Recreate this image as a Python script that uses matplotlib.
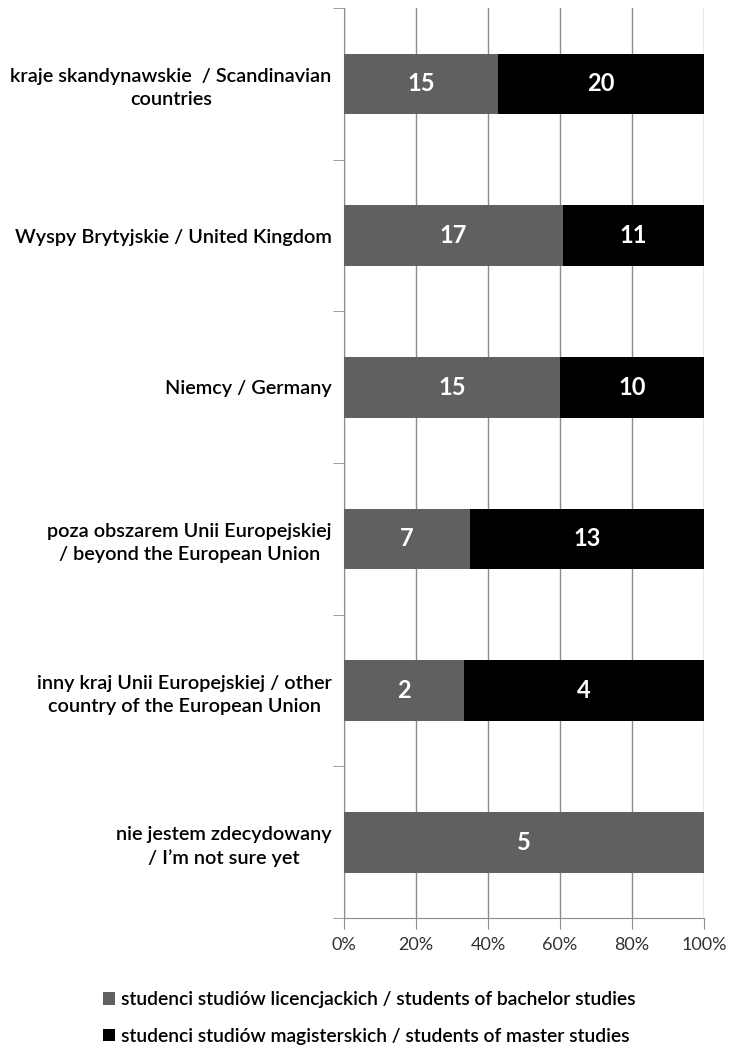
import numpy as np
import matplotlib.pyplot as plt
from matplotlib.ticker import FixedLocator

categories = [
    "kraje skandynawskie  / Scandinavian\ncountries",
    "Wyspy Brytyjskie / United Kingdom",
    "Niemcy / Germany",
    "poza obszarem Unii Europejskiej\n/ beyond the European Union",
    "inny kraj Unii Europejskiej / other\ncountry of the European Union",
    "nie jestem zdecydowany\n/ I\u2019m not sure yet",
]
bachelor = [15, 17, 15, 7, 2, 5]
master = [20, 11, 10, 13, 4, 0]
series_names = ["studenci studiów licencjackich / students of bachelor studies",
                "studenci studiów magisterskich / students of master studies"]
xticks = [0, 20, 40, 60, 80, 100]

plt.rcParams['font.family'] = ['Lato', 'DejaVu Sans']

b = np.array(bachelor, dtype=float)
m = np.array(master, dtype=float)
tot = b + m
bp = b / tot * 100
mp = m / tot * 100

fig = plt.figure(figsize=(7.44, 10.51), dpi=100)
ax = fig.add_axes([344 / 744, 1 - 918 / 1051, 360 / 744, 910 / 1051])

y = np.arange(len(categories))
gray = "#5f6062"
bars1 = ax.barh(y, bp, height=0.4, color=gray, zorder=3, label=series_names[0])
bars2 = ax.barh(y, mp, left=bp, height=0.4, color="black", zorder=3, label=series_names[1])

for i in range(len(y)):
    if b[i] > 0:
        ax.text(bp[i] / 2, y[i], str(bachelor[i]), color="white", ha="center",
                va="center", fontsize=17, fontweight="bold", zorder=4)
    if m[i] > 0:
        ax.text(bp[i] + mp[i] / 2, y[i], str(master[i]), color="white", ha="center",
                va="center", fontsize=17, fontweight="bold", zorder=4)

ax.set_xlim(0, 100)
ax.set_ylim(len(y) - 0.5, -0.5)
ax.set_xticks(xticks)
ax.set_xticklabels([f"{v}%" for v in xticks], fontsize=13, color="#333333")
ax.xaxis.grid(True, color="#8c8c8c", linewidth=1, zorder=0)
ax.set_yticks(y)
ax.set_yticklabels(categories, fontsize=14.3, fontweight="semibold", linespacing=1.4)
for lab in ax.get_yticklabels():
    lab.set_multialignment("center")
ax.yaxis.set_minor_locator(FixedLocator(np.arange(-0.5, len(y), 1)))
ax.tick_params(axis="y", which="major", length=0, pad=9)
ax.tick_params(axis="y", which="minor", length=8, color="#8c8c8c")
ax.tick_params(axis="x", length=8, color="#8c8c8c", pad=6)

for s in ["top", "right"]:
    ax.spines[s].set_visible(False)
for s in ["left", "bottom"]:
    ax.spines[s].set_color("#8c8c8c")

fig.legend(handles=[bars1, bars2], loc="upper left", bbox_to_anchor=(86 / 744, 1 - 974 / 1051),
           frameon=False, prop={"weight": "semibold", "size": 13.9},
           handlelength=0.6, handleheight=0.6, handletextpad=0.3, labelspacing=1.0)

fig.savefig("out.png", dpi=100)
